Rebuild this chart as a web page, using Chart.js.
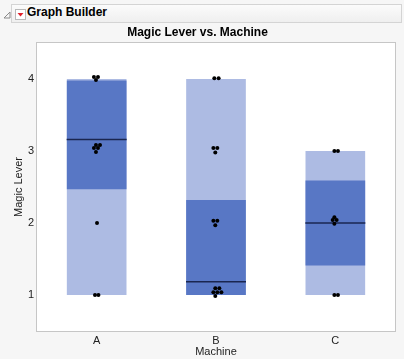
<!DOCTYPE html>
<html>
<head>
<meta charset="utf-8">
<script src="https://cdn.jsdelivr.net/npm/chart.js@4"></script>
<style>
  html, body { margin: 0; padding: 0; background: #f6f6f6; }
  #wrap { position: relative; width: 404px; height: 359px; overflow: hidden; }
  #cv { position: absolute; left: 0; top: 0; }
  #disc { position: absolute; left: 3px; top: 11px; }
  #hdr {
    position: absolute; left: 11px; top: 4px; width: 389px; height: 17px;
    border: 1px solid #d4d4d4; background: linear-gradient(#fbfbfb, #efefef);
  }
  #rt {
    position: absolute; left: 3px; top: 4px; width: 9px; height: 9px;
    border: 1px solid #b9b9b9; background: #fff;
  }
  #hdr .t {
    position: absolute; left: 15px; top: 0; line-height: 17px;
    font: bold 12px "Liberation Sans", Arial, sans-serif; color: #000;
  }
</style>
</head>
<body>
<div id="wrap">
  <canvas id="cv" width="404" height="359"></canvas>
  <svg id="disc" width="8" height="8" viewBox="0 0 8 8"><polygon points="7,1 7,7 1,7" fill="none" stroke="#8a8a8a" stroke-width="1"/></svg>
  <div id="hdr">
    <div id="rt"><svg width="9" height="9" viewBox="0 0 9 9" style="position:absolute;left:0;top:0"><polygon points="1.5,3 7.5,3 4.5,6.5" fill="#e0202a"/></svg></div>
    <div class="t">Graph Builder</div>
  </div>
</div>
<script>
/* Magic Lever vs. Machine */

const machines = ['A', 'B', 'C'];
const yTicks   = [1, 2, 3, 4];

// box summary per machine
const rangeLo  = [1, 1, 1];
const rangeHi  = [4, 4, 3];
const q1       = [2.47, 1.0, 1.41];
const q3       = [3.98, 2.32, 2.59];
const medians  = [3.16, 1.185, 2.0];

// raw points: machine index, value, horizontal jitter (category units)
const ptMachine = [0,0,0, 0,0,0,0,0, 0, 0,0,
                   1,1, 1,1,1, 1,1,1, 1,1,1,1,1,1,
                   2,2, 2,2,2,2, 2,2];
const ptValue   = [4.028,4.028,3.986, 3.083,3.083,3.042,3.042,2.986, 2.0, 1.0,1.0,
                   4.01,4.01, 3.04,3.04,2.98, 2.03,2.03,1.97, 1.093,1.093,1.037,1.037,1.037,0.986,
                   3.0,3.0, 2.08,2.04,2.04,1.99, 1.0,1.0];
const ptJitter  = [-0.023,0.011,-0.006, -0.006,0.028,-0.023,0.011,-0.006, 0.003, -0.014,0.015,
                   -0.014,0.022, -0.022,0.011,-0.006, -0.022,0.011,-0.006, -0.006,0.028,-0.022,0.011,0.045,-0.006,
                   -0.008,0.022, -0.008,-0.022,0.011,-0.008, -0.008,0.022];

const FONT = '"Liberation Sans", Arial, sans-serif';

const frame = {
  id: 'frame',
  beforeDraw(ch) {
    const { ctx, chartArea: a } = ch;
    ctx.save();
    ctx.fillStyle = '#ffffff';
    ctx.fillRect(a.left, a.top, a.right - a.left, a.bottom - a.top);
    ctx.strokeStyle = '#c6c6c6';
    ctx.lineWidth = 1;
    ctx.strokeRect(a.left - 0.5, a.top - 0.5, a.right - a.left + 1, a.bottom - a.top + 1);
    ctx.restore();
  }
};

new Chart(document.getElementById('cv'), {
  type: 'bar',
  data: {
    labels: machines,
    datasets: [
      {
        type: 'scatter', label: 'points', xAxisID: 'x2', order: 0,
        data: ptValue.map((v, i) => ({ x: ptMachine[i] + ptJitter[i], y: v })),
        pointRadius: 2, pointBackgroundColor: '#000', pointBorderWidth: 0, showLine: false
      },
      {
        type: 'scatter', label: 'median', xAxisID: 'x2', order: 1,
        data: medians.map((m, i) => ({ x: i, y: m })),
        pointStyle: 'line', pointRadius: 30, pointBorderColor: '#1a2650', pointBorderWidth: 1.5, showLine: false
      },
      {
        label: 'IQR', xAxisID: 'x', order: 2, grouped: false,
        data: q1.map((v, i) => [v, q3[i]]),
        backgroundColor: '#5877c5', barPercentage: 0.5, categoryPercentage: 1
      },
      {
        label: 'range', xAxisID: 'x', order: 3, grouped: false,
        data: rangeLo.map((v, i) => [v, rangeHi[i]]),
        backgroundColor: '#adbbe3', barPercentage: 0.5, categoryPercentage: 1
      }
    ]
  },
  options: {
    responsive: false,
    animation: false,
    layout: { autoPadding: false, padding: { top: 22, right: 9, left: 0, bottom: 0 } },
    plugins: {
      legend: { display: false },
      tooltip: { enabled: false },
      title: {
        display: true, text: 'Magic Lever vs. Machine', color: '#000',
        font: { family: FONT, size: 12, weight: 'bold' },
        padding: { top: 3, bottom: 3.6 }
      }
    },
    scales: {
      x: {
        type: 'category', offset: true,
        grid: { display: false, drawTicks: false }, border: { display: false },
        ticks: { color: '#222', font: { family: FONT, size: 11 }, padding: 3 },
        title: { display: true, text: 'Machine', color: '#222', font: { family: FONT, size: 11 }, padding: { top: 0, bottom: 0 } },
        afterFit(s) { s.height = 28; }
      },
      x2: { type: 'linear', display: false, offset: false, min: -0.5, max: 2.5 },
      y: {
        min: 0.5, max: 4.5,
        afterBuildTicks(s) { s.ticks = yTicks.map(v => ({ value: v })); },
        grid: { display: false, drawTicks: false }, border: { display: false },
        ticks: { color: '#222', font: { family: FONT, size: 11 }, padding: 3 },
        title: { display: true, text: 'Magic Lever', color: '#222', font: { family: FONT, size: 11 }, padding: { top: 12, bottom: 0 } },
        afterFit(s) { s.width = 37; }
      }
    }
  },
  plugins: [frame]
});
</script>
</body>
</html>
